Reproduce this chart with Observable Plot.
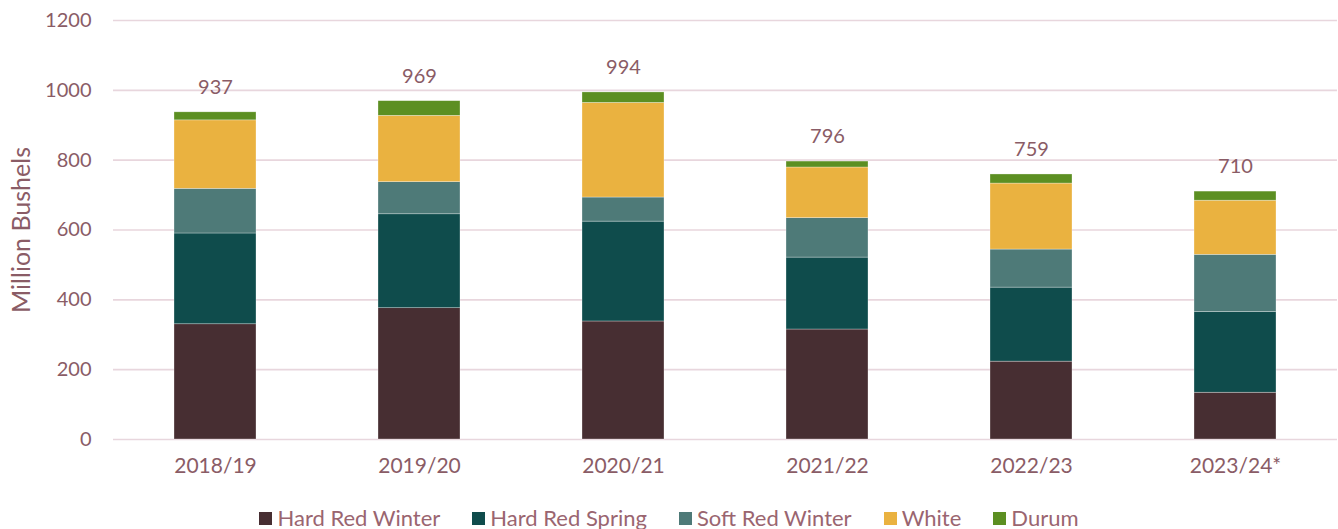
<!DOCTYPE html>
<html>
<head>
<meta charset="utf-8">
<script src="https://cdn.jsdelivr.net/npm/d3@7"></script>
<script src="https://cdn.jsdelivr.net/npm/@observablehq/plot@0.6"></script>
<style>
  html, body { margin: 0; padding: 0; background: #fff; }
  body { width: 1338px; height: 529px; overflow: hidden; font-family: Lato, "Open Sans", sans-serif; }
  #legend { display: flex; justify-content: center; margin-top: 7px; font-size: 22px; color: #9a6570; line-height: 22px; white-space: nowrap; }
  #legend .item { display: flex; align-items: center; margin: 0 16px; }
  #legend .sw { width: 13px; height: 13px; margin-right: 5px; }
</style>
</head>
<body>
<div id="chart"></div>
<div id="legend"></div>
<script>
const years = ["2018/19", "2019/20", "2020/21", "2021/22", "2022/23", "2023/24*"];
const classes = ["Hard Red Winter", "Hard Red Spring", "Soft Red Winter", "White", "Durum"];
const colors = ["#472e32", "#0f4c4c", "#4e7a78", "#eab240", "#5c8f22"];
const hardRedWinter = [330, 376, 338, 315, 223, 134];
const hardRedSpring = [260, 269, 286, 206, 212, 231];
const softRedWinter = [128, 92, 69, 113, 109, 164];
const white = [196, 190, 271, 145, 189, 155];
const durum = [23, 42, 30, 17, 26, 26];
const totals = [937, 969, 994, 796, 759, 710];
const yTicks = [0, 200, 400, 600, 800, 1000, 1200];

const series = [hardRedWinter, hardRedSpring, softRedWinter, white, durum];
const rows = [];
years.forEach((yr, i) => {
  classes.forEach((c, j) => rows.push({ year: yr, cls: c, value: series[j][i] }));
});
const totalRows = years.map((yr, i) => ({ year: yr, total: totals[i] }));

const textColor = "#8a5c66";

const chart = Plot.plot({
  width: 1338,
  height: 500,
  marginLeft: 113,
  marginRight: 1,
  marginTop: 20,
  marginBottom: 61,
  style: { fontFamily: "Lato, 'Open Sans', sans-serif", background: "#fff" },
  x: { domain: years, paddingInner: 0.6, paddingOuter: 0.3, label: null },
  y: { domain: [0, 1200], label: null },
  color: { domain: classes, range: colors },
  marks: [
    Plot.ruleY(yTicks, { stroke: "#e8d6dd", strokeWidth: 1.6 }),
    Plot.barY(rows, { x: "year", y: "value", fill: "cls", order: classes, stroke: "#ffffff", strokeWidth: 0.6, strokeOpacity: 0.5 }),
    Plot.text(totalRows, { x: "year", y: "total", text: d => String(d.total), dy: -25, fill: textColor, fontSize: 20 }),
    Plot.axisY({ ticks: yTicks, tickSize: 0, tickPadding: 22, fontSize: 20, color: textColor, label: null, tickFormat: d => String(d) }),
    Plot.axisX({ tickSize: 0, tickPadding: 19, fontSize: 21, color: textColor, label: null }),
    Plot.text(["Million Bushels"], { frameAnchor: "left", textAnchor: "middle", dx: -92, dy: 0, rotate: -90, fontSize: 25, fill: textColor })
  ]
});
document.getElementById("chart").appendChild(chart);

const legend = document.getElementById("legend");
classes.forEach((c, j) => {
  const item = document.createElement("div");
  item.className = "item";
  const sw = document.createElement("span");
  sw.className = "sw";
  sw.style.background = colors[j];
  const lbl = document.createElement("span");
  lbl.textContent = c;
  item.appendChild(sw);
  item.appendChild(lbl);
  legend.appendChild(item);
});
</script>
</body>
</html>
